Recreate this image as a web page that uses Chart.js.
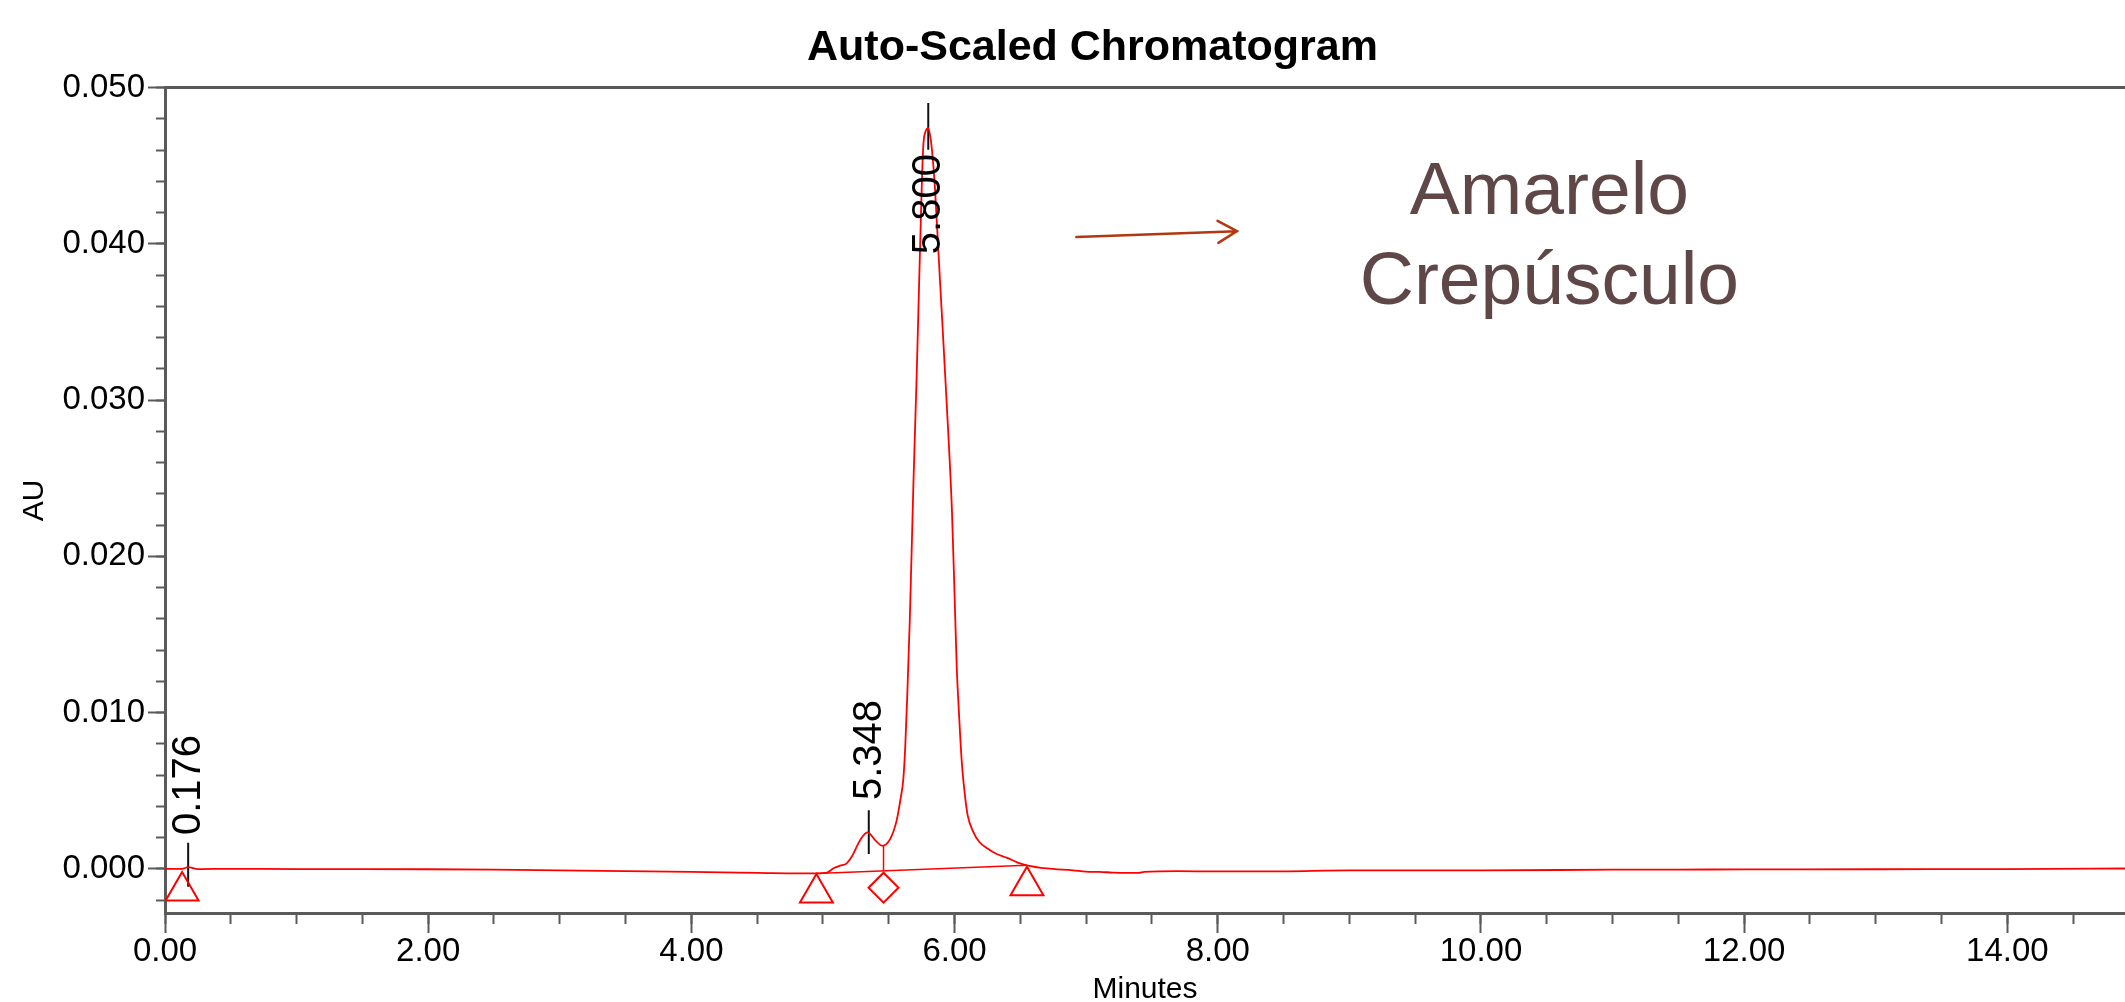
<!DOCTYPE html>
<html><head><meta charset="utf-8">
<script src="https://cdn.jsdelivr.net/npm/chart.js@4.4.1/dist/chart.umd.min.js"></script>
<style>html,body{margin:0;padding:0;background:#fff;overflow:hidden}#wrap{width:2125px;height:1002px;position:relative}</style>
</head><body><div id="wrap"><canvas id="c" width="2125" height="1002"></canvas></div>
<script>
// ---------- data ----------
const chartTitle = 'Auto-Scaled Chromatogram';
const xAxisTitle = 'Minutes';
const yAxisTitle = 'AU';

const times = [0.00,0.13,0.176,0.25,0.5,1.0,1.5,2.0,2.5,3.0,3.5,4.0,4.5,4.95,5.03,5.08,5.13,5.18,5.22,5.28,5.337,5.40,5.45,5.51,5.56,5.59,5.61,5.625,5.64,5.66,5.687,5.712,5.737,5.761,5.78,5.80,5.815,5.827,5.85,5.877,5.90,5.94,5.98,6.00,6.016,6.03,6.055,6.08,6.10,6.14,6.19,6.25,6.32,6.40,6.48,6.55,6.70,6.90,7.00,7.10,7.20,7.26,7.40,7.44,7.70,8.00,8.50,9.00,10.00,11.00,11.50,12.00,13.00,14.00,14.90];
const absorbance = [0.0000,0.0000,0.0001,-0.00002,0.0000,-0.00002,-0.00002,-0.00003,-0.00006,-0.0001,-0.00015,-0.0002,-0.00026,-0.0003,-0.00025,0.00003,0.0002,0.00035,0.0008,0.0018,0.00233,0.0018,0.00147,0.0019,0.0031,0.0045,0.0057,0.0078,0.0110,0.0160,0.0246,0.0316,0.0395,0.0461,0.0472,0.0474,0.0469,0.0461,0.0437,0.0395,0.0360,0.0298,0.0229,0.0175,0.0130,0.0105,0.0068,0.0046,0.0034,0.0024,0.0017,0.0013,0.00095,0.0007,0.0004,0.00022,0.00002,-0.0001,-0.00018,-0.0002,-0.00024,-0.00026,-0.00026,-0.0002,-0.00015,-0.00017,-0.00016,-0.0001,-0.0001,-0.00006,-0.00005,-0.00004,-0.00003,-0.00002,0.00002];

const peakTimes = [0.176, 5.348, 5.800];
const peakLabels = ['0.176', '5.348', '5.800'];
const peakTickTop = [0.00166, 0.00375, 0.04901];
const peakTickBottom = [-0.00115, 0.00094, 0.04603];
const peakLabelStart = [0.00216, 0.0044, 0.03934];

const triangleTimes = [0.13, 4.95, 6.55];
const triangleValues = [-0.00142, -0.00155, -0.00109];
const diamondTimes = [5.46];
const diamondValues = [-0.00121];

const baselineTimes = [4.95, 6.55];
const baselineValues = [-0.0003, 0.00022];
const dropTimes = [5.46, 5.46];
const dropValues = [0.00147, -0.00012];

const xRange = [0, 14.894];
const yRange = [-0.00283, 0.050];
const xMajorStep = 2, xMinorStep = 0.5;
const yMajorStep = 0.01, yMinorStep = 0.002;

const annotationLines = ['Amarelo', 'Crepúsculo'];
const annotationX = 10.52;
const annotationY = [0.0419, 0.03614];
const arrowFrom = [6.926, 0.04043];
const arrowTo = [8.146, 0.04081];

// ---------- chart ----------
const FONT = "'Liberation Sans', Arial, Helvetica, sans-serif";
const RED = '#ff0000';
const AXIS = '#5a5a5a';
const pts = (xs, ys) => xs.map((x, i) => ({x: x, y: ys[i]}));

const datasets = [
  {data: pts(times, absorbance), borderColor: RED, borderWidth: 1.8, pointRadius: 0, cubicInterpolationMode: 'monotone', fill: false},
  {data: pts(baselineTimes, baselineValues), borderColor: RED, borderWidth: 1.5, pointRadius: 0, fill: false},
  {data: pts(dropTimes, dropValues), borderColor: RED, borderWidth: 1.5, pointRadius: 0, fill: false},
  {data: pts(triangleTimes, triangleValues), showLine: false, pointStyle: 'triangle', pointRadius: 19, borderColor: RED, backgroundColor: 'rgba(0,0,0,0)', pointBorderWidth: 2},
  {data: pts(diamondTimes, diamondValues), showLine: false, pointStyle: 'rectRot', pointRadius: 15, borderColor: RED, backgroundColor: 'rgba(0,0,0,0)', pointBorderWidth: 2}
];
peakTimes.forEach((t, i) => {
  datasets.push({data: pts([t, t], [peakTickTop[i], peakTickBottom[i]]), borderColor: '#111', borderWidth: 2, pointRadius: 0, fill: false});
});

const annotate = {
  id: 'annotate',
  afterDatasetsDraw(chart) {
    const ctx = chart.ctx, xs = chart.scales.x, ys = chart.scales.y;
    ctx.save();
    ctx.fillStyle = '#000';
    ctx.font = '40px ' + FONT;
    ctx.textAlign = 'left';
    ctx.textBaseline = 'middle';
    peakTimes.forEach((t, i) => {
      ctx.save();
      ctx.translate(xs.getPixelForValue(t), ys.getPixelForValue(peakLabelStart[i]));
      ctx.rotate(-Math.PI / 2);
      ctx.fillText(peakLabels[i], 0, 1);
      ctx.restore();
    });
    ctx.fillStyle = '#5f4747';
    ctx.font = '75px ' + FONT;
    ctx.textAlign = 'center';
    ctx.textBaseline = 'alphabetic';
    annotationLines.forEach((s, i) => {
      ctx.fillText(s, xs.getPixelForValue(annotationX), ys.getPixelForValue(annotationY[i]));
    });
    const x1 = xs.getPixelForValue(arrowFrom[0]), y1 = ys.getPixelForValue(arrowFrom[1]);
    const x2 = xs.getPixelForValue(arrowTo[0]), y2 = ys.getPixelForValue(arrowTo[1]);
    const ang = Math.atan2(y2 - y1, x2 - x1);
    ctx.strokeStyle = '#b3370f';
    ctx.lineWidth = 2.5;
    ctx.lineCap = 'round';
    ctx.beginPath();
    ctx.moveTo(x1, y1); ctx.lineTo(x2, y2);
    const L = 22, a = Math.PI / 6;
    ctx.moveTo(x2 - L * Math.cos(ang - a), y2 - L * Math.sin(ang - a));
    ctx.lineTo(x2, y2);
    ctx.lineTo(x2 - L * Math.cos(ang + a), y2 - L * Math.sin(ang + a));
    ctx.stroke();
    ctx.restore();
  }
};

const tickFont = {family: FONT, size: 33};

new Chart(document.getElementById('c'), {
  type: 'line',
  data: {datasets: datasets},
  plugins: [annotate],
  options: {
    responsive: false,
    animation: false,
    events: [],
    layout: {autoPadding: false, padding: {left: 60, right: 0, top: 0, bottom: 0}},
    plugins: {
      legend: {display: false},
      tooltip: {enabled: false},
      title: {display: true, text: chartTitle, color: '#000', font: {family: FONT, size: 43, weight: 'bold'}, padding: {top: 22, bottom: 14}}
    },
    scales: {
      x: {
        type: 'linear', position: 'bottom', min: xRange[0], max: xRange[1], weight: 1,
        afterFit(s) { s.height = 89; },
        ticks: {stepSize: xMajorStep, includeBounds: false, color: '#000', font: tickFont, padding: -1, maxRotation: 0, autoSkip: false, callback: v => v.toFixed(2)},
        grid: {drawOnChartArea: false, drawTicks: true, tickLength: 20, tickColor: AXIS, tickWidth: 2},
        border: {display: true, color: AXIS, width: 3},
        title: {display: true, text: xAxisTitle, color: '#000', font: {family: FONT, size: 30}, padding: {top: 0, bottom: -6}}
      },
      x2: {
        type: 'linear', position: 'bottom', min: xRange[0], max: xRange[1], weight: -1,
        afterFit(s) { s.height = 0; },
        ticks: {stepSize: xMinorStep, includeBounds: false, display: false, autoSkip: false},
        grid: {drawOnChartArea: false, drawTicks: true, tickLength: 11, tickColor: AXIS, tickWidth: 2},
        border: {display: false}
      },
      xTop: {
        type: 'linear', position: 'top', min: xRange[0], max: xRange[1],
        afterFit(s) { s.height = 0; },
        ticks: {display: false},
        grid: {display: false},
        border: {display: true, color: AXIS, width: 3}
      },
      y: {
        type: 'linear', position: 'left', min: yRange[0], max: yRange[1], weight: 1,
        afterFit(s) { s.width = 105; },
        ticks: {stepSize: yMajorStep, includeBounds: false, color: '#000', font: tickFont, padding: 3, autoSkip: false, callback: v => v.toFixed(3)},
        grid: {drawOnChartArea: false, drawTicks: true, tickLength: 17, tickColor: AXIS, tickWidth: 2},
        border: {display: true, color: AXIS, width: 3},
        title: {display: true, text: yAxisTitle, color: '#000', font: {family: FONT, size: 30}, padding: {top: -43, bottom: 0}}
      },
      y2: {
        type: 'linear', position: 'left', min: yRange[0], max: yRange[1], weight: -1,
        afterFit(s) { s.width = 0; },
        ticks: {stepSize: yMinorStep, includeBounds: false, display: false, autoSkip: false},
        grid: {drawOnChartArea: false, drawTicks: true, tickLength: 9, tickColor: AXIS, tickWidth: 2},
        border: {display: false}
      }
    }
  }
});
</script>
</body></html>
